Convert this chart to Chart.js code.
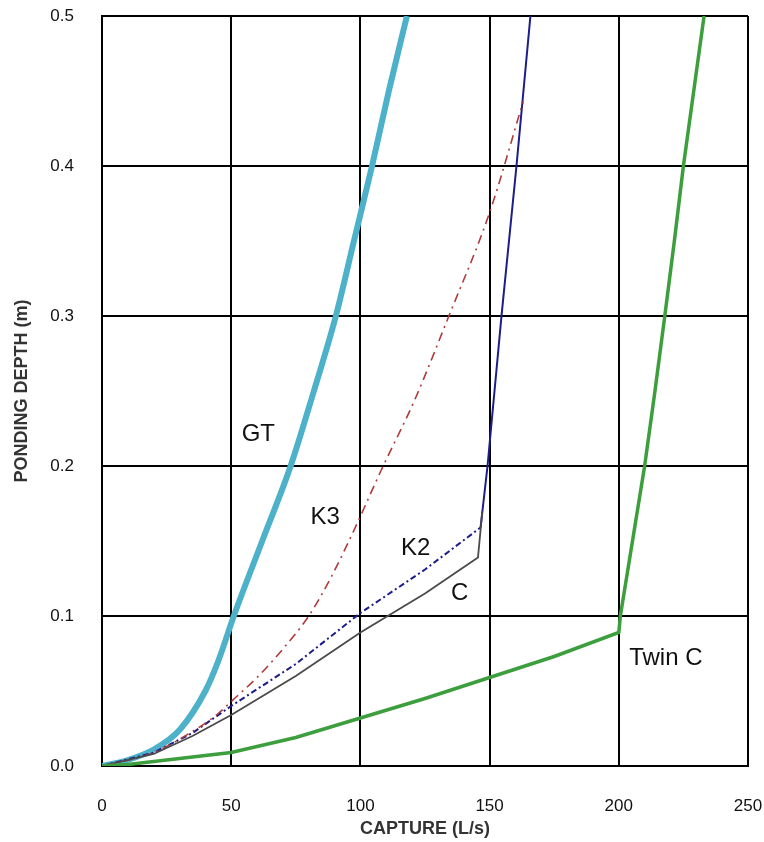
<!DOCTYPE html>
<html>
<head>
<meta charset="utf-8">
<script src="https://cdn.jsdelivr.net/npm/chart.js@4.4.1/dist/chart.umd.min.js"></script>
<style>
  body { margin: 0; background: #fff; }
</style>
</head>
<body>
<canvas id="myChart" width="764" height="842"></canvas>
<script>
// capture (L/s) vs ponding depth (m) for each inlet
const gtCapture = [0, 10, 20, 30, 40, 45, 51, 62, 73, 82, 90.5, 97.5, 104.5, 111, 118];
const gtDepth   = [0, 0.004, 0.011, 0.024, 0.05, 0.07, 0.1, 0.15, 0.2, 0.25, 0.3, 0.35, 0.4, 0.45, 0.5];

const k3Capture = [0, 20, 35, 45, 50, 60, 70, 80, 89, 98, 108, 121, 134, 150, 163];
const k3Depth   = [0, 0.009, 0.023, 0.035, 0.043, 0.059, 0.078, 0.1, 0.127, 0.159, 0.197, 0.244, 0.299, 0.369, 0.443];

const k2Capture = [0, 20, 35, 50, 75, 100, 125, 146.5, 149.2, 154.6, 160.4, 165.8];
const k2Depth   = [0, 0.009, 0.022, 0.04, 0.068, 0.102, 0.131, 0.159, 0.2, 0.3, 0.4, 0.5];

const cCapture = [0, 20, 35, 50, 75, 100, 125, 145.5, 147.2];
const cDepth   = [0, 0.008, 0.02, 0.034, 0.06, 0.089, 0.115, 0.139, 0.17];

const twinCapture = [0, 10, 25, 50, 75, 100, 125, 150, 175, 200, 200.6, 205.3, 210, 214, 217.8, 221.5, 225, 229, 233];
const twinDepth   = [0, 0.001, 0.004, 0.009, 0.019, 0.032, 0.045, 0.059, 0.073, 0.089, 0.1, 0.15, 0.2, 0.25, 0.3, 0.35, 0.4, 0.45, 0.5];

const xTicks = [0, 50, 100, 150, 200, 250];
const yTicks = [0, 0.1, 0.2, 0.3, 0.4, 0.5];
const curveNames = ['GT', 'K3', 'K2', 'C', 'Twin C'];

function pts(xs, ys) {
  return xs.map((x, i) => ({ x: x, y: ys[i] }));
}

// where each curve name is written (data units)
const nameSpots = [
  { x: 60.5, y: 0.221, align: 'center' },
  { x: 86.4, y: 0.166, align: 'center' },
  { x: 121.4, y: 0.145, align: 'center' },
  { x: 138.4, y: 0.115, align: 'center' },
  { x: 204, y: 0.072, align: 'left' }
];

const curveLabels = {
  id: 'curveLabels',
  afterDatasetsDraw(chart) {
    const c = chart.ctx;
    const xs = chart.scales.x, ys = chart.scales.y;
    c.save();
    c.font = '24px Arial, "Liberation Sans", sans-serif';
    c.fillStyle = '#111';
    c.textBaseline = 'middle';
    curveNames.forEach((name, i) => {
      const s = nameSpots[i];
      c.textAlign = s.align;
      c.fillText(name, xs.getPixelForValue(s.x), ys.getPixelForValue(s.y));
    });
    c.restore();
  }
};

const ctx = document.getElementById('myChart');
const axisFont = { family: 'Arial, "Liberation Sans", sans-serif', size: 17 };
const titleFont = { family: 'Arial, "Liberation Sans", sans-serif', size: 18, weight: 'bold' };

new Chart(ctx, {
  type: 'scatter',
  data: {
    datasets: [
      {
        label: 'Twin C',
        data: pts(twinCapture, twinDepth),
        showLine: true,
        borderColor: '#3c9e3c',
        borderWidth: 3.5,
        pointRadius: 0
      },
      {
        label: 'C',
        data: pts(cCapture, cDepth),
        showLine: true,
        borderColor: '#4a4a4a',
        borderWidth: 1.8,
        pointRadius: 0
      },
      {
        label: 'K3',
        data: pts(k3Capture, k3Depth),
        showLine: true,
        borderColor: '#b03a3a',
        borderWidth: 1.6,
        borderDash: [9, 5, 2, 5],
        cubicInterpolationMode: 'monotone',
        pointRadius: 0
      },
      {
        label: 'K2',
        data: pts(k2Capture, k2Depth),
        showLine: true,
        borderColor: '#1c1c8c',
        borderWidth: 2,
        borderDash: [6, 3, 2, 3],
        segment: {
          borderDash: c => c.p0.parsed.y >= 0.159 ? [] : [6, 3, 2, 3]
        },
        pointRadius: 0
      },
      {
        label: 'GT',
        data: pts(gtCapture, gtDepth),
        showLine: true,
        borderColor: '#4cb1c9',
        borderWidth: 6,
        cubicInterpolationMode: 'monotone',
        pointRadius: 0
      }
    ]
  },
  options: {
    responsive: false,
    animation: false,
    layout: { padding: { top: 16, right: 16, left: 0, bottom: 0 } },
    plugins: {
      legend: { display: false },
      tooltip: { enabled: false }
    },
    scales: {
      x: {
        type: 'linear',
        min: 0,
        max: 250,
        afterBuildTicks: s => { s.ticks = xTicks.map(v => ({ value: v })); },
        afterFit: s => { s.height = 76; s.paddingLeft = 0; s.paddingRight = 0; },
        grid: { color: '#000', lineWidth: 2, drawTicks: false },
        border: { color: '#000', width: 2 },
        ticks: { color: '#111', font: axisFont, padding: 30, maxRotation: 0 },
        title: {
          display: true,
          text: 'CAPTURE (L/s)',
          color: '#333',
          font: titleFont,
          padding: { top: 0, bottom: 2 }
        }
      },
      y: {
        type: 'linear',
        min: 0,
        max: 0.5,
        afterBuildTicks: s => { s.ticks = yTicks.map(v => ({ value: v })); },
        afterFit: s => { s.width = 102; s.paddingTop = 0; s.paddingBottom = 0; },
        grid: { color: '#000', lineWidth: 2, drawTicks: false },
        border: { color: '#000', width: 2 },
        ticks: {
          color: '#111',
          font: axisFont,
          padding: 28,
          callback: v => v.toFixed(1)
        },
        title: {
          display: true,
          text: 'PONDING DEPTH (m)',
          color: '#333',
          font: titleFont,
          padding: { top: 11, bottom: 0 }
        }
      }
    }
  },
  plugins: [curveLabels]
});
</script>
</body>
</html>
